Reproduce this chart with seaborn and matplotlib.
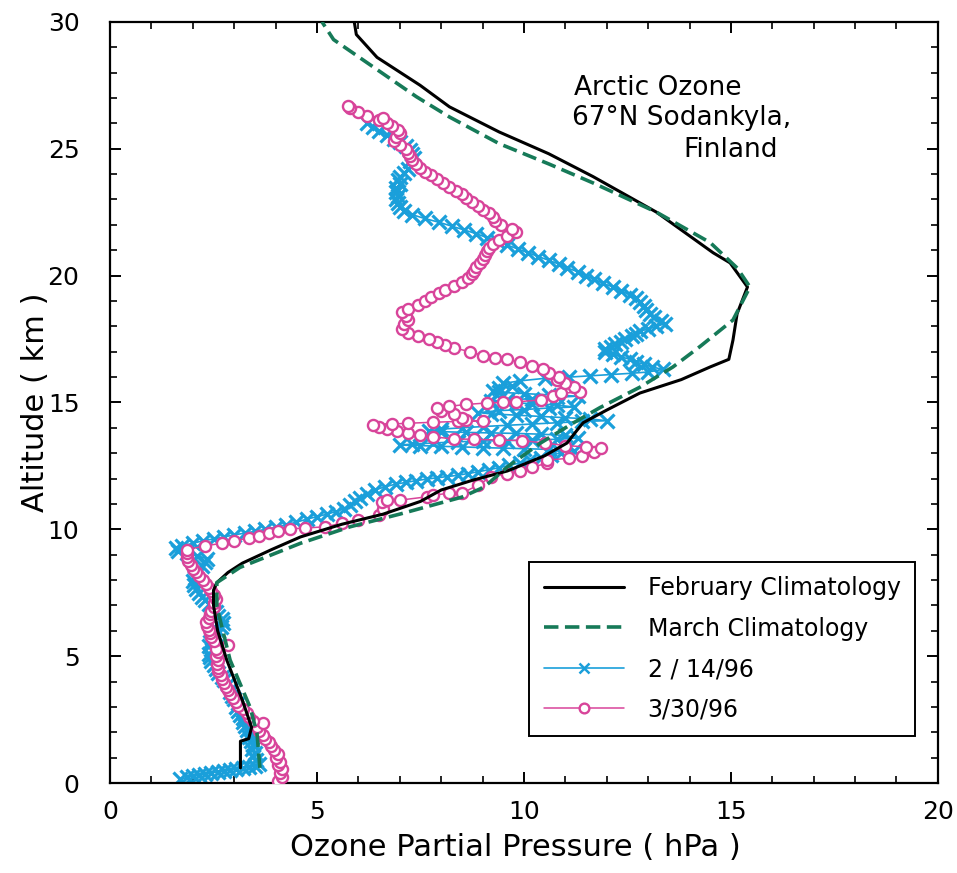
import matplotlib
matplotlib.use("Agg")
import matplotlib.pyplot as plt
from matplotlib.ticker import MultipleLocator
import seaborn as sns

# February climatology (solid black)
feb_alt = [0.6, 1.65, 1.75, 2.2, 3.25, 4.85, 6.0, 7.0, 7.6, 7.9, 8.3, 8.67, 9.2, 9.7,
           10.2, 10.6, 11.1, 11.55, 11.94, 12.3, 12.9, 13.4, 13.9, 14.2, 14.7, 15.37,
           15.9, 16.4, 16.7, 17.46, 18.5, 19.55, 20.5, 20.9, 22.5, 23.9, 24.8, 25.66,
           26.65, 27.5, 28.6, 29.5, 30.0]
feb_o3 = [3.15, 3.15, 3.35, 3.42, 3.2, 2.82, 2.6, 2.5, 2.5, 2.58, 2.85, 3.2, 3.9, 4.6,
          5.6, 6.6, 7.5, 8.0, 8.77, 9.6, 10.5, 11.04, 11.28, 11.43, 12.0, 12.8,
          13.8, 14.5, 14.95, 15.05, 15.15, 15.4, 14.98, 14.57, 13.2, 11.67, 10.6, 9.4,
          8.2, 7.49, 6.45, 5.95, 5.9]

# March climatology (dashed green)
mar_alt = [0.6, 1.97, 3.0, 4.85, 6.95, 7.9, 8.5, 9.45, 10.1, 10.6, 11.27, 11.6, 11.75,
           12.46, 13.4, 14.2, 14.8, 15.6, 16.4, 17.2, 18.25, 19.55, 20.3, 21.3, 22.5,
           23.65, 24.4, 25.2, 26.25, 27.05, 28.4, 29.3, 30.0]
mar_o3 = [3.62, 3.55, 3.38, 2.9, 2.58, 2.58, 3.14, 4.6, 5.8, 7.0, 8.5, 8.95, 9.1,
          9.6, 10.4, 11.2, 11.84, 12.8, 13.6, 14.25, 15.05, 15.46, 15.15, 14.5, 13.2,
          11.67, 10.6, 9.4, 8.2, 7.4, 6.2, 5.4, 5.12]

# 2/14/96 sounding (blue, x markers)
s1_alt = [0.15, 0.22, 0.28, 0.32, 0.36, 0.40, 0.44, 0.48, 0.52, 0.55, 0.58, 0.62, 0.68, 0.75,
          0.90, 1.05, 1.20, 1.35, 1.50, 1.65, 1.80, 1.95, 2.10, 2.25, 2.40, 2.55, 2.70, 2.85,
          3.00, 3.15, 3.30, 3.45, 3.60, 3.75, 3.90, 4.05, 4.20, 4.35, 4.50, 4.65, 4.80, 4.95,
          5.10, 5.25, 5.40, 5.55, 5.70, 5.85, 6.00, 6.15, 6.30, 6.45, 6.60, 6.75, 6.90, 7.05,
          7.20, 7.35, 7.50, 7.65, 7.80, 7.95, 8.10, 8.25, 8.40, 8.55, 8.70, 8.85, 8.95, 9.05,
          9.15, 9.25, 9.35, 9.45, 9.55, 9.62, 9.70, 9.78, 9.85, 9.92, 10.00, 10.08, 10.18,
          10.28, 10.40, 10.50, 10.60, 10.70, 10.82, 10.95, 11.10, 11.25, 11.40, 11.55, 11.68,
          11.78, 11.85, 11.92, 11.98, 12.03, 12.08, 12.13, 12.20, 12.27, 12.35, 12.43, 12.52,
          12.62, 12.72, 12.82, 12.92, 13.02, 13.10,
          13.15, 13.18, 13.20, 13.22, 13.25, 13.27, 13.30, 13.32, 13.36, 13.40, 13.45, 13.48,
          13.50, 13.52, 13.55, 13.60, 13.70, 13.75, 13.78, 13.80, 13.82, 13.85, 13.88, 13.95,
          14.00, 14.05, 14.10, 14.15, 14.20, 14.25, 14.28, 14.35, 14.40, 14.45, 14.50, 14.55,
          14.60, 14.68, 14.72, 14.78, 14.82, 14.90, 14.95, 15.00, 15.05, 15.10, 15.15, 15.20,
          15.25, 15.30, 15.35, 15.40, 15.45, 15.55, 15.65, 15.75, 15.85, 15.95,
          16.00, 16.05, 16.10, 16.15, 16.20, 16.30, 16.40, 16.50, 16.60, 16.70, 16.80, 16.90,
          17.00, 17.10, 17.20, 17.30, 17.40, 17.50, 17.60, 17.70, 17.80, 17.90, 18.00, 18.10,
          18.20, 18.35, 18.50, 18.65, 18.80, 18.95, 19.10, 19.25, 19.40, 19.55, 19.70, 19.85,
          20.00, 20.15, 20.30, 20.45, 20.60, 20.75, 20.90, 21.05, 21.20, 21.35, 21.50, 21.65,
          21.80, 21.95, 22.10, 22.25, 22.40, 22.55, 22.70, 22.85, 23.00, 23.15, 23.30, 23.45,
          23.60, 23.75, 23.90, 24.05, 24.20, 24.35, 24.50, 24.65, 24.80, 24.95, 25.10, 25.25,
          25.40, 25.55, 25.70, 25.85, 26.00]
s1_o3 = [1.70, 1.85, 2.00, 2.15, 2.30, 2.45, 2.60, 2.75, 2.90, 3.05, 3.20, 3.35, 3.50, 3.60,
         3.52, 3.45, 3.50, 3.42, 3.46, 3.40, 3.36, 3.38, 3.30, 3.27, 3.20, 3.22, 3.15, 3.10,
         3.05, 3.08, 3.00, 2.95, 2.90, 2.94, 2.85, 2.76, 2.70, 2.62, 2.55, 2.50, 2.45, 2.42,
         2.40, 2.46, 2.38, 2.42, 2.48, 2.55, 2.60, 2.68, 2.72, 2.70, 2.62, 2.55, 2.48, 2.40,
         2.30, 2.22, 2.15, 2.08, 2.02, 2.00, 2.05, 2.10, 2.15, 2.22, 2.30, 2.35, 2.10, 1.85,
         1.65, 1.60, 1.75, 2.00, 2.25, 2.50, 2.75, 3.00, 3.25, 3.50, 3.75, 4.00, 4.25,
         4.50, 4.75, 5.00, 5.25, 5.45, 5.65, 5.80, 5.92, 6.05, 6.20, 6.40, 6.65,
         6.90, 7.15, 7.40, 7.65, 7.90, 8.15, 8.40, 8.65, 8.90, 9.15, 9.40, 9.65,
         9.90, 10.15, 10.40, 10.65, 10.90, 11.20,
         10.60, 10.00, 9.50, 9.00, 8.50, 8.00, 7.50, 7.00, 7.30, 7.80, 8.40, 9.00,
         9.60, 10.20, 10.80, 11.30, 11.00, 10.40, 9.80, 9.20, 8.60, 8.00, 7.70, 8.00,
         8.50, 9.00, 9.60, 10.20, 10.80, 11.40, 12.00, 11.60, 11.00, 10.40, 9.80, 9.20,
         8.90, 9.40, 10.00, 10.60, 11.20, 10.80, 10.20, 9.60, 9.20, 9.60, 10.20, 10.80,
         11.30, 10.60, 10.00, 9.40, 9.25, 9.40, 9.70, 9.50, 9.90, 10.50,
         11.10, 11.60, 12.10, 12.60, 13.00, 13.35, 13.10, 12.90, 12.70, 12.55, 12.35, 12.15,
         11.95, 11.95, 12.10, 12.20, 12.35, 12.45, 12.60, 12.70, 12.80, 13.00, 13.20, 13.40,
         13.30, 13.15, 13.05, 12.95, 12.90, 12.80, 12.70, 12.55, 12.35, 12.15, 11.90, 11.70,
         11.50, 11.30, 11.05, 10.85, 10.60, 10.35, 10.10, 9.85, 9.60, 9.35, 9.10, 8.85,
         8.55, 8.25, 7.95, 7.60, 7.30, 7.10, 7.00, 6.95, 6.90, 6.95, 6.90, 6.92,
         7.00, 6.95, 7.00, 7.10, 7.20, 7.30, 7.25, 7.35, 7.30, 7.25, 7.15, 7.00,
         6.85, 6.70, 6.50, 6.35, 6.20]

# 3/30/96 sounding (magenta, open circles)
s2_alt = [0.10, 0.25, 0.40, 0.55, 0.70, 0.85, 1.00, 1.15, 1.30, 1.45, 1.60, 1.75, 1.90, 2.05,
          2.20, 2.35, 2.45, 2.60, 2.75, 2.90, 3.05, 3.20, 3.35, 3.50, 3.65, 3.80, 3.95, 4.10,
          4.25, 4.40, 4.55, 4.70, 4.85, 5.00, 5.15, 5.30, 5.45, 5.60, 5.75, 5.90, 6.05, 6.20,
          6.35, 6.50, 6.65, 6.80, 6.95, 7.10, 7.25, 7.40, 7.55, 7.70, 7.85, 8.00, 8.15, 8.30,
          8.45, 8.60, 8.75, 8.90, 9.05, 9.20, 9.35, 9.45, 9.55, 9.65, 9.75, 9.85, 9.95, 10.02,
          10.05, 10.10, 10.24, 10.37, 10.57, 10.80, 11.07, 11.15, 11.15, 11.28, 11.35, 11.42,
          11.42, 11.75, 12.06, 12.20, 12.30, 12.45, 12.60, 12.73, 12.80, 12.90, 13.05, 13.20,
          13.25, 13.30, 13.40, 13.50, 13.52, 13.55, 13.56, 13.65, 13.72, 13.80, 13.88, 13.95,
          14.05, 14.10, 14.15, 14.18, 14.22, 14.25, 14.27, 14.30, 14.40, 14.55, 14.65, 14.77,
          14.85, 14.92, 14.98, 15.00, 15.02, 15.10, 15.25, 15.37, 15.40, 15.60, 15.75, 15.90,
          16.00, 16.15, 16.30, 16.45, 16.60, 16.70, 16.75, 16.85, 17.00, 17.15, 17.25, 17.40,
          17.50, 17.60, 17.75, 17.90, 18.10, 18.25, 18.40, 18.55, 18.70, 18.85, 19.00, 19.15,
          19.30, 19.45, 19.60, 19.75, 19.90, 20.05, 20.20, 20.35, 20.50, 20.65, 20.80, 20.95,
          21.10, 21.25, 21.40, 21.55, 21.70, 21.85, 22.00, 22.15, 22.30, 22.45, 22.60, 22.75,
          22.90, 23.05, 23.20, 23.35, 23.50, 23.65, 23.80, 23.95, 24.10, 24.25, 24.40, 24.55,
          24.70, 24.85, 25.00, 25.15, 25.30, 25.45, 25.60, 25.75, 25.90, 26.00, 26.15, 26.20,
          26.30, 26.45, 26.60, 26.70]
s2_o3 = [4.05, 4.15, 4.10, 4.15, 4.05, 4.10, 4.00, 4.05, 3.95, 3.90, 3.85, 3.75, 3.70, 3.60,
         3.55, 3.70, 3.45, 3.35, 3.30, 3.20, 3.10, 3.05, 2.98, 2.90, 2.85, 2.80, 2.75, 2.70,
         2.68, 2.62, 2.60, 2.58, 2.60, 2.55, 2.60, 2.55, 2.85, 2.50, 2.45, 2.42, 2.40, 2.35,
         2.32, 2.38, 2.42, 2.45, 2.50, 2.52, 2.55, 2.50, 2.45, 2.40, 2.32, 2.25, 2.15, 2.08,
         2.00, 1.95, 1.88, 1.85, 1.86, 1.86, 2.30, 2.70, 3.00, 3.35, 3.60, 3.85, 4.05, 4.35,
         4.70, 5.20, 5.60, 6.00, 6.50, 6.60, 6.56, 6.70, 7.00, 7.65, 7.80, 8.20,
         8.50, 8.90, 9.20, 9.60, 9.90, 10.20, 10.55, 10.55, 11.10, 11.40, 11.70, 11.85,
         11.50, 11.00, 10.50, 9.95, 9.40, 8.80, 8.30, 7.80, 7.50, 7.20, 6.93, 6.70,
         6.50, 6.35, 6.80, 7.20, 7.80, 8.40, 9.00, 8.60, 8.50, 8.30, 8.00, 7.90,
         8.20, 8.60, 9.10, 9.50, 9.80, 10.40, 10.70, 10.90, 11.35, 11.20, 11.00, 10.80,
         10.85, 10.60, 10.45, 10.20, 9.90, 9.60, 9.30, 9.00, 8.70, 8.30, 8.10, 7.90,
         7.70, 7.45, 7.20, 7.05, 7.10, 7.20, 7.15, 7.05, 7.20, 7.45, 7.60, 7.75,
         7.95, 8.10, 8.30, 8.50, 8.65, 8.75, 8.80, 8.85, 8.95, 9.00, 9.05, 9.10,
         9.15, 9.25, 9.40, 9.60, 9.80, 9.70, 9.45, 9.30, 9.25, 9.15, 9.00, 8.90,
         8.75, 8.60, 8.50, 8.35, 8.20, 8.05, 7.90, 7.75, 7.60, 7.50, 7.40, 7.30,
         7.25, 7.20, 7.15, 7.00, 6.85, 6.90, 7.00, 6.95, 6.80, 6.70, 6.50, 6.60,
         6.20, 6.00, 5.80, 5.75]

BLUE = "#1a9fda"
PINK = "#d8449a"
GREEN = "#167a58"

sns.set_style("ticks", {"xtick.direction": "in", "ytick.direction": "in",
                        "text.color": "black", "axes.labelcolor": "black",
                        "xtick.color": "black", "ytick.color": "black"})
plt.rcParams["font.family"] = ["DejaVu Sans"]

fig = plt.figure(figsize=(9.57, 8.73), dpi=100)
ax = fig.add_axes([0.115, 0.103, 0.865, 0.872])

sns.lineplot(x=s1_o3, y=s1_alt, sort=False, estimator=None, ax=ax, color=BLUE,
             linewidth=1.2, marker="x", markersize=10, markeredgewidth=2.3,
             markeredgecolor=BLUE, label="2 / 14/96", zorder=2)
sns.lineplot(x=s2_o3, y=s2_alt, sort=False, estimator=None, ax=ax, color=PINK,
             linewidth=1.1, marker="o", markersize=8, markeredgewidth=1.7,
             markeredgecolor=PINK, markerfacecolor="white", label="3/30/96", zorder=3)
sns.lineplot(x=feb_o3, y=feb_alt, sort=False, estimator=None, ax=ax, color="black",
             linewidth=2.2, label="February Climatology", zorder=4)
sns.lineplot(x=mar_o3, y=mar_alt, sort=False, estimator=None, ax=ax, color=GREEN,
             linewidth=2.6, linestyle=(0, (4, 1.8)), label="March Climatology", zorder=5)

ax.set_xlim(0, 20)
ax.set_ylim(0, 30)
ax.xaxis.set_major_locator(MultipleLocator(5))
ax.xaxis.set_minor_locator(MultipleLocator(1))
ax.yaxis.set_major_locator(MultipleLocator(5))
ax.yaxis.set_minor_locator(MultipleLocator(1))
ax.tick_params(which="both", direction="in", top=True, right=True, color="black")
ax.tick_params(which="major", length=8, width=1.4, labelsize=18, labelcolor="black")
ax.tick_params(which="minor", length=5, width=1.2)
ax.tick_params(axis="y", pad=22)
ax.tick_params(axis="x", pad=12)
for sp in ax.spines.values():
    sp.set_linewidth(1.6)
    sp.set_color("black")

ax.set_xlabel("Ozone Partial Pressure ( hPa )", fontsize=22, color="black")
ax.set_ylabel("Altitude ( km )", fontsize=22, color="black")
ax.xaxis.set_label_coords(0.49, -0.066)
ax.yaxis.set_label_coords(-0.072, 0.5)

ax.text(11.2, 27.1, "Arctic Ozone", fontsize=19, va="baseline", color="black")
ax.text(11.16, 25.94, "67°N Sodankyla,", fontsize=19, va="baseline", color="black")
ax.text(13.84, 24.67, "Finland", fontsize=19, va="baseline", color="black")

h, l = ax.get_legend_handles_labels()
order = [2, 3, 0, 1]
leg = ax.legend([h[i] for i in order], [l[i] for i in order], loc="lower right",
                bbox_to_anchor=(0.972, 0.062), borderaxespad=0, fontsize=17,
                handlelength=3.4, handletextpad=1.0, labelspacing=0.7, borderpad=0.6,
                fancybox=False, frameon=True, edgecolor="black", framealpha=1)
leg.get_frame().set_linewidth(1.4)
for t in leg.get_texts():
    t.set_color("black")
# smaller markers in the legend keys, as in the original
leg.legend_handles[2].set_markersize(7)
leg.legend_handles[2].set_markeredgewidth(1.8)
leg.legend_handles[3].set_markersize(7)

fig.savefig("out.png", dpi=100)
